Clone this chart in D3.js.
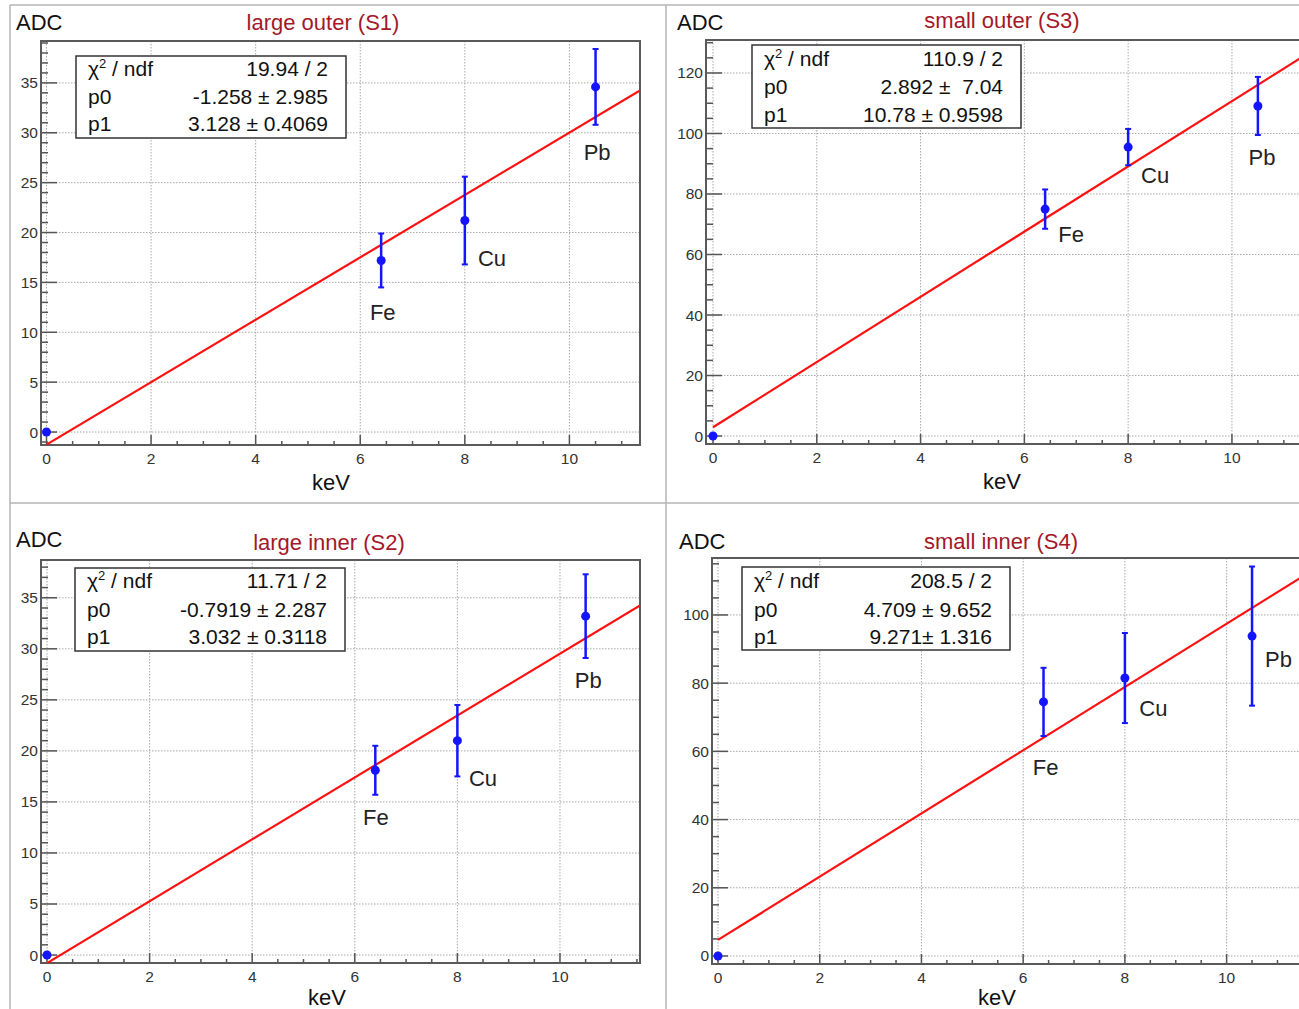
<!DOCTYPE html>
<html>
<head>
<meta charset="utf-8">
<script src="https://cdn.jsdelivr.net/npm/d3@7"></script>
<style>
  html, body { margin: 0; padding: 0; background: #fff; }
  svg { display: block; font-family: "Liberation Sans", Arial, sans-serif; }
  text { white-space: pre; }
</style>
</head>
<body>
<svg id="chart" width="1299" height="1009"></svg>
<script>
// ---------------- DATA ----------------
const titles = ["large outer (S1)", "small outer (S3)", "large inner (S2)", "small inner (S4)"];
const energyKeV = [0, 6.4, 8.0, 10.5];
const elementNames = ["", "Fe", "Cu", "Pb"];

const adcS1 = [0, 17.2, 21.2, 34.6];
const errS1 = [0, 2.7, 4.4, 3.8];
const adcS3 = [0, 75.0, 95.5, 109.1];
const errS3 = [0, 6.5, 6.0, 9.6];
const adcS2 = [0, 18.1, 21.0, 33.2];
const errS2 = [0, 2.4, 3.5, 4.1];
const adcS4 = [0, 74.5, 81.5, 93.8];
const errS4 = [0, 10.0, 13.2, 20.4];

// fit parameters  y = p0 + p1 * x
const fitP0 = [-1.258, 2.892, -0.7919, 4.709];
const fitP1 = [3.128, 10.78, 3.032, 9.271];

const chi2Text = ["19.94 / 2", "110.9 / 2", "11.71 / 2", "208.5 / 2"];
const p0Text = ["-1.258 \u00B1 2.985", "2.892 \u00B1  7.04", "-0.7919 \u00B1 2.287", "4.709 \u00B1 9.652"];
const p1Text = ["3.128 \u00B1 0.4069", "10.78 \u00B1 0.9598", "3.032 \u00B1 0.3118", "9.271\u00B1 1.316"];

// element annotation anchors (data units: keV, ADC)
const labelKeV = [[6.43, 8.52, 10.53], [6.90, 8.52, 10.58], [6.41, 8.50, 10.55], [6.44, 8.56, 11.02]];
const labelADC = [[12.0, 17.45, 28.1], [66.8, 86.3, 92.2], [13.5, 17.35, 26.9], [55.4, 72.7, 87.1]];

const xTickValues = [0, 2, 4, 6, 8, 10];
const yTickS1 = [0, 5, 10, 15, 20, 25, 30, 35];
const yTickS3 = [0, 20, 40, 60, 80, 100, 120];
const yTickS2 = [0, 5, 10, 15, 20, 25, 30, 35];
const yTickS4 = [0, 20, 40, 60, 80, 100];

const xDomains = [[-0.105, 11.35], [-0.135, 11.35], [-0.117, 11.56], [-0.118, 11.6]];
const yDomains = [[-1.30, 39.2], [-2.64, 130.9], [-0.78, 38.7], [-2.35, 116.7]];
const yMinorStep = [1, 5, 1, 5];

// ---------------- LAYOUT ----------------
const layout = [
  { frame: [41, 41, 640, 445], adc: [16, 30], title: [323, 30], kev: [331, 490], stats: [76, 56, 346, 138], rows: [76, 104, 131] },
  { frame: [706, 40, 1302, 444], adc: [677, 30], title: [1002, 28], kev: [1002, 489], stats: [752, 45, 1021, 128], rows: [66, 94, 122] },
  { frame: [41, 560, 640, 963], adc: [16, 547], title: [329, 550], kev: [327, 1005], stats: [75, 568, 345, 651], rows: [588, 617, 644] },
  { frame: [712, 558, 1308, 964], adc: [679, 549], title: [1001, 549], kev: [997, 1005], stats: [742, 567, 1010, 650], rows: [588, 617, 644] }
];

const panels = [
  { adc: adcS1, err: errS1, yTicks: yTickS1 },
  { adc: adcS3, err: errS3, yTicks: yTickS3 },
  { adc: adcS2, err: errS2, yTicks: yTickS2 },
  { adc: adcS4, err: errS4, yTicks: yTickS4 }
];

const svg = d3.select("#chart");

// pad borders
const borderColor = "#b4b4b4";
svg.append("line").attr("x1", 10).attr("y1", 5).attr("x2", 1299).attr("y2", 5).attr("stroke", borderColor).attr("stroke-width", 1.5);
svg.append("line").attr("x1", 10).attr("y1", 5).attr("x2", 10).attr("y2", 1009).attr("stroke", borderColor).attr("stroke-width", 1.5);
svg.append("line").attr("x1", 10).attr("y1", 503).attr("x2", 1299).attr("y2", 503).attr("stroke", borderColor).attr("stroke-width", 1.5);
svg.append("line").attr("x1", 666).attr("y1", 5).attr("x2", 666).attr("y2", 1009).attr("stroke", borderColor).attr("stroke-width", 1.5);

panels.forEach((p, i) => {
  const L = layout[i];
  const [fx0, fy0, fx1, fy1] = L.frame;
  const x = d3.scaleLinear().domain(xDomains[i]).range([fx0, fx1]);
  const y = d3.scaleLinear().domain(yDomains[i]).range([fy1, fy0]);
  const g = svg.append("g");

  const clipId = "clip" + i;
  svg.append("clipPath").attr("id", clipId).append("rect")
    .attr("x", fx0).attr("y", fy0).attr("width", fx1 - fx0).attr("height", fy1 - fy0);

  // grid
  const grid = g.append("g").attr("stroke", "#a8a8a8").attr("stroke-width", 1).attr("stroke-dasharray", "1.5,1.5");
  xTickValues.forEach(v => {
    grid.append("line").attr("x1", x(v)).attr("x2", x(v)).attr("y1", fy0).attr("y2", fy1);
  });
  p.yTicks.forEach(v => {
    grid.append("line").attr("x1", fx0).attr("x2", fx1).attr("y1", y(v)).attr("y2", y(v));
  });

  // ticks (inward)
  const tk = g.append("g").attr("stroke", "#555").attr("stroke-width", 1.5);
  const xMinor = d3.range(0, xDomains[i][1], 0.5);
  xMinor.forEach(v => {
    const major = Math.abs(v % 2) < 1e-9;
    tk.append("line").attr("x1", x(v)).attr("x2", x(v)).attr("y1", fy1).attr("y2", fy1 - (major ? 10 : 4));
  });
  const yMin = Math.ceil(yDomains[i][0] / yMinorStep[i]) * yMinorStep[i];
  const yMinor = d3.range(yMin, yDomains[i][1], yMinorStep[i]);
  const majorStep = p.yTicks[1] - p.yTicks[0];
  yMinor.forEach(v => {
    const major = Math.abs(((v % majorStep) + majorStep) % majorStep) < 1e-9;
    tk.append("line").attr("x1", fx0).attr("x2", fx0 + (major ? 16 : 7)).attr("y1", y(v)).attr("y2", y(v));
  });

  // frame
  g.append("rect").attr("x", fx0).attr("y", fy0).attr("width", fx1 - fx0).attr("height", fy1 - fy0)
    .attr("fill", "none").attr("stroke", "#5a5a5a").attr("stroke-width", 2);

  // tick labels
  const lab = g.append("g").attr("font-size", 15.5).attr("fill", "#333");
  xTickValues.forEach(v => {
    lab.append("text").attr("x", x(v)).attr("y", fy1 + 19).attr("text-anchor", "middle").text(v);
  });
  p.yTicks.forEach(v => {
    lab.append("text").attr("x", fx0 - 3).attr("y", y(v) + 5.5).attr("text-anchor", "end").text(v);
  });

  // fit line
  const line = d3.line().x(d => x(d)).y(d => y(fitP0[i] + fitP1[i] * d));
  g.append("path").datum([0, xDomains[i][1]]).attr("d", line)
    .attr("fill", "none").attr("stroke", "#ff1010").attr("stroke-width", 2.2)
    .attr("clip-path", `url(#${clipId})`);

  // data points with error bars
  const pts = g.append("g");
  energyKeV.forEach((e, k) => {
    const cx = x(e), cy = y(p.adc[k]);
    if (p.err[k] > 0) {
      const yt = y(p.adc[k] + p.err[k]), yb = y(p.adc[k] - p.err[k]);
      pts.append("line").attr("x1", cx).attr("x2", cx).attr("y1", yt).attr("y2", yb)
        .attr("stroke", "#1414ff").attr("stroke-width", 2.5);
      [yt, yb].forEach(yy => pts.append("line").attr("x1", cx - 3).attr("x2", cx + 3).attr("y1", yy).attr("y2", yy)
        .attr("stroke", "#1414ff").attr("stroke-width", 2));
    }
    pts.append("circle").attr("cx", cx).attr("cy", cy).attr("r", 4.5).attr("fill", "#1414ff");
  });

  // element labels
  [1, 2, 3].forEach((k, j) => {
    g.append("text").attr("x", x(labelKeV[i][j])).attr("y", y(labelADC[i][j]) + 8)
      .attr("text-anchor", "middle").attr("font-size", 22).attr("fill", "#222").text(elementNames[k]);
  });

  // stats box
  const [sx0, sy0, sx1, sy1] = L.stats;
  g.append("rect").attr("x", sx0).attr("y", sy0).attr("width", sx1 - sx0).attr("height", sy1 - sy0)
    .attr("fill", "#fff").attr("stroke", "#333").attr("stroke-width", 1.5);
  const st = g.append("g").attr("font-size", 21).attr("fill", "#111");
  const chiT = st.append("text").attr("x", sx0 + 12).attr("y", L.rows[0]);
  chiT.append("tspan").text("\u03C7");
  chiT.append("tspan").attr("font-size", 13).attr("dy", -8).text("2");
  chiT.append("tspan").attr("dy", 8).text(" / ndf");
  st.append("text").attr("x", sx0 + 12).attr("y", L.rows[1]).text("p0");
  st.append("text").attr("x", sx0 + 12).attr("y", L.rows[2]).text("p1");
  const rx = sx1 - 18;
  st.append("text").attr("x", rx).attr("y", L.rows[0]).attr("text-anchor", "end").text(chi2Text[i]);
  st.append("text").attr("x", rx).attr("y", L.rows[1]).attr("text-anchor", "end").text(p0Text[i]);
  st.append("text").attr("x", rx).attr("y", L.rows[2]).attr("text-anchor", "end").text(p1Text[i]);

  // axis titles and panel title
  g.append("text").attr("x", L.adc[0]).attr("y", L.adc[1]).attr("font-size", 22).attr("fill", "#111").text("ADC");
  g.append("text").attr("x", L.kev[0]).attr("y", L.kev[1]).attr("font-size", 22).attr("fill", "#111")
    .attr("text-anchor", "middle").text("keV");
  g.append("text").attr("x", L.title[0]).attr("y", L.title[1]).attr("font-size", 22).attr("fill", "#a3182a")
    .attr("text-anchor", "middle").text(titles[i]);
});
</script>
</body>
</html>
